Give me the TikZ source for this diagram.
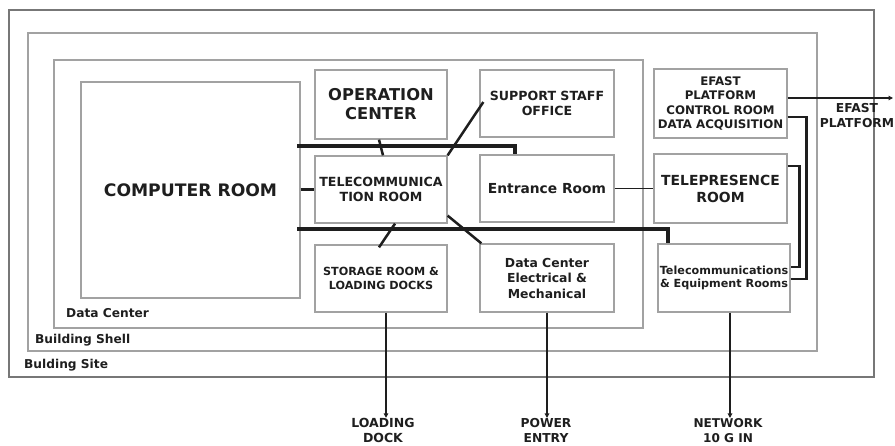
\documentclass[tikz,border=0pt]{standalone}
\usepackage{fontspec}
\setmainfont{DejaVu Sans}
\usetikzlibrary{arrows.meta}

\definecolor{ink}{HTML}{1E1E1E}
\definecolor{boxgray}{HTML}{A2A2A2}
\definecolor{sitegray}{HTML}{777777}

\tikzset{
  room/.style={draw=boxgray, line width=1.3pt, align=center, inner sep=1pt, text=ink},
  frame/.style={draw=boxgray, line width=1.3pt},
  bus/.style={draw=ink, line width=3.4pt},
  link/.style={draw=ink, line width=2.5pt},
  thinlink/.style={draw=ink, line width=1.4pt},
  feed/.style={draw=ink, line width=1.3pt, -{Triangle[length=4.5pt,width=4.5pt]}},
  tag/.style={text=ink, align=center, inner sep=0pt},
}
\newcommand{\fsz}[2]{\bfseries\fontsize{#1}{#2}\selectfont}

\begin{document}
\begin{tikzpicture}[x=1pt, y=-1pt, line join=miter]

  \useasboundingbox (0,0) rectangle (895,445);

  % ===== frames =====
  \draw[frame, draw=sitegray] (9,10) rectangle (874,377);
  \draw[frame] (28,33) rectangle (817,351);
  \draw[frame] (54,60) rectangle (643,328);

  \node[tag, anchor=base west, font=\fsz{12.2}{14}] (dclabel) at (66,317.5) {Data Center};
  \node[tag, anchor=base west, font=\fsz{12.2}{14}] (shelllabel) at (35,343.5) {Building Shell};
  \node[tag, anchor=base west, font=\fsz{12.2}{14}] (sitelabel) at (24,368.5) {Bulding Site};

  % ===== rooms =====
  \node[room, minimum width=219, minimum height=216, font=\fsz{17.2}{20}] (comp) at (190.5,190) {COMPUTER ROOM};

  \node[room, minimum width=132, minimum height=69, font=\fsz{16.3}{19}] (op) at (381,104.5) {OPERATION\\CENTER};
  \node[room, minimum width=132, minimum height=67, font=\fsz{12.6}{15}] (tel) at (381,189.5) {TELECOMMUNICA\\TION ROOM};
  \node[room, minimum width=132, minimum height=67, font=\fsz{11.2}{14}] (stor) at (381,278.5) {STORAGE ROOM \&\\LOADING DOCKS};

  \node[room, minimum width=134, minimum height=67, font=\fsz{12.6}{14.5}] (sup) at (547,103.5) {SUPPORT STAFF\\OFFICE};
  \node[room, minimum width=134, minimum height=67, font=\fsz{13.8}{16}] (entr) at (547,188.5) {Entrance Room};
  \node[room, minimum width=134, minimum height=68, font=\fsz{12.4}{15.5}] (dcem) at (547,278) {Data Center\\Electrical \&\\Mechanical};

  \node[room, minimum width=133, minimum height=69, font=\fsz{11.8}{14.3}] (efast) at (720.5,103.5) {EFAST\\PLATFORM\\CONTROL ROOM\\DATA ACQUISITION};
  \node[room, minimum width=133, minimum height=69, font=\fsz{13.9}{17}] (telp) at (720.5,188.5) {TELEPRESENCE\\ROOM};
  \node[room, minimum width=132, minimum height=68, font=\fsz{11.2}{13.5}] (teleq) at (724,278) {Telecommunications\\\& Equipment Rooms};

  % ===== outside labels =====
  \node[tag, font=\fsz{12.5}{15.5}] (dock) at (383,430.5) {LOADING\\DOCK};
  \node[tag, font=\fsz{12.3}{15.5}] (power) at (546,430.5) {POWER\\ENTRY};
  \node[tag, font=\fsz{12.1}{15.5}] (net) at (728,430.5) {NETWORK\\10 G IN};
  \node[tag, font=\fsz{12.3}{15}] (platform) at (857,115.5) {EFAST\\PLATFORM};

  % ===== busses =====
  \coordinate (busN) at (297,146);
  \coordinate (busS) at (297,229);
  \coordinate (efastout) at (893,98);

  \draw[bus] (busN) -| ([xshift=-32pt]entr.north);
  \draw[bus] (busS) -| ([xshift=-56pt]teleq.north);
  \draw[bus] (tel.west -| comp.east) -- (tel.west);

  % ===== cross links =====
  \draw[link] ([xshift=-2pt]op.south) -- ([xshift=2pt]tel.north);
  \draw[link] ([xshift=14pt]tel.south) -- ([xshift=-2pt,yshift=-3pt]stor.north);
  \draw[link] (tel.north east) -- ([xshift=4pt,yshift=1.5pt]sup.west);
  \draw[link] ([yshift=8pt]tel.south east) -- ([xshift=2pt]dcem.north west);
  \draw[thinlink] (entr.east) -- (telp.west);

  \draw[link] ([yshift=-13.5pt]efast.east) -- ++(19,0) |- ([yshift=-1pt]teleq.east);
  \draw[link] ([yshift=22.5pt]telp.east) -- ++(12,0) |- ([yshift=11pt]teleq.east);

  % ===== feeds =====
  \draw[feed] ([yshift=5.5pt]efast.east) -- (efastout);
  \draw[feed] ([xshift=5pt]stor.south) -- ([xshift=5pt]stor.south |- dock.north);
  \draw[feed] (dcem.south) -- (dcem.south |- power.north);
  \draw[feed] ([xshift=6pt]teleq.south) -- ([xshift=6pt]teleq.south |- net.north);

\end{tikzpicture}
\end{document}
